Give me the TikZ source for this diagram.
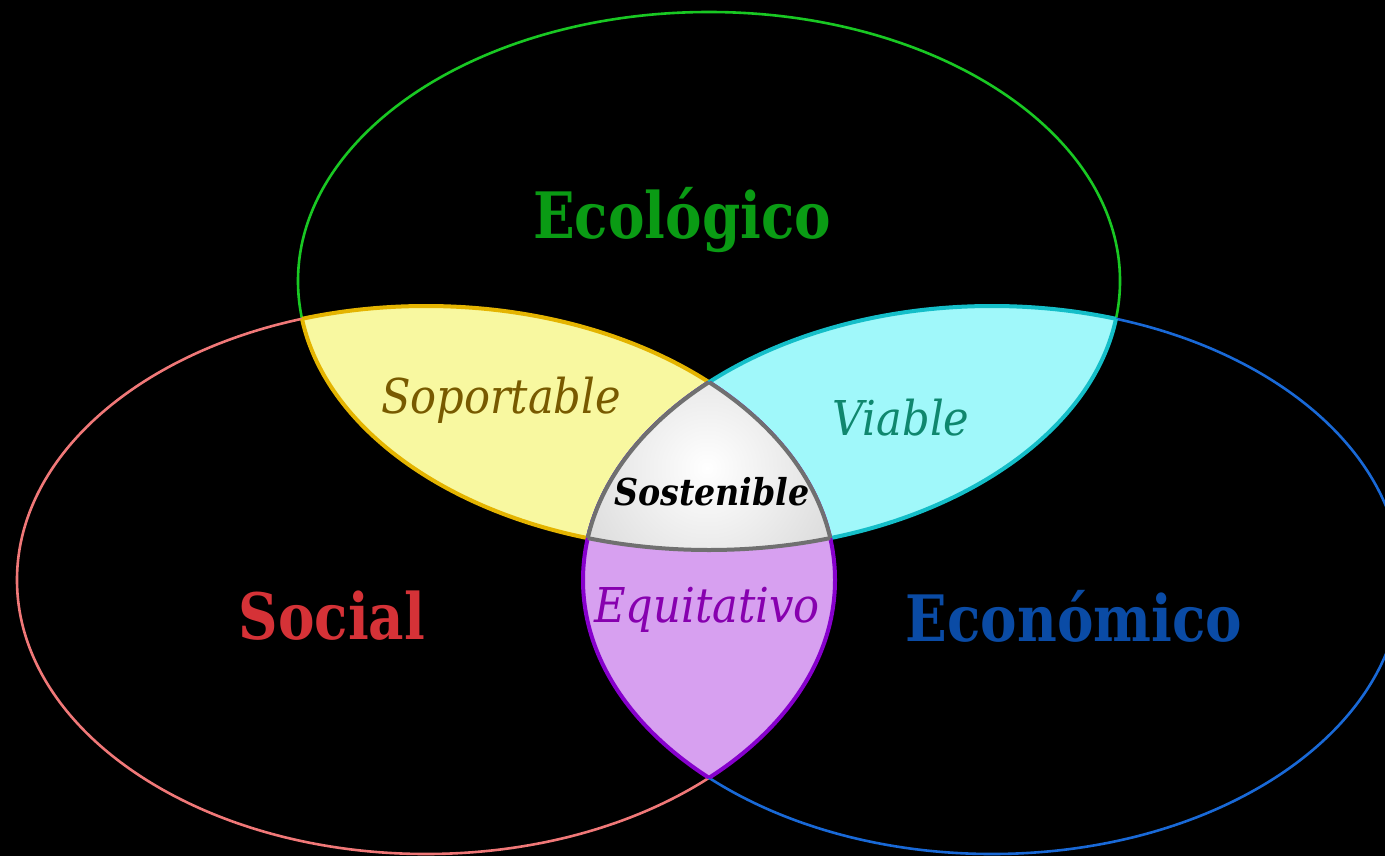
\documentclass[tikz,border=0pt]{standalone}
\usepackage{fontspec}
\newfontfamily\dvc{DejaVu Serif Condensed}
\definecolor{bgc}{RGB}{0,0,0}
\definecolor{gline}{RGB}{25,200,35}
\definecolor{gtext}{RGB}{10,155,20}
\definecolor{rline}{RGB}{240,120,120}
\definecolor{rtext}{RGB}{213,50,55}
\definecolor{bline}{RGB}{25,105,215}
\definecolor{btext}{RGB}{10,75,165}
\definecolor{yfill}{RGB}{248,248,160}
\definecolor{yline}{RGB}{228,180,0}
\definecolor{ytext}{RGB}{120,90,0}
\definecolor{cfill}{RGB}{160,248,250}
\definecolor{cline}{RGB}{20,190,200}
\definecolor{ctext}{RGB}{15,135,110}
\definecolor{pfill}{RGB}{215,160,240}
\definecolor{pline}{RGB}{135,0,205}
\definecolor{ptext}{RGB}{135,0,175}
\definecolor{sline}{RGB}{112,112,112}
\definecolor{sout}{RGB}{180,180,180}
\newcommand\narrow[1]{\scalebox{0.95}[1]{#1}}
\tikzset{
  thinring/.style={line width=1.3pt},
  lensborder/.style={line width=2pt},
  bigword/.style={font=\dvc\bfseries\fontsize{32}{32}\selectfont, anchor=base, inner sep=0pt},
  smallword/.style={font=\dvc\itshape\fontsize{24}{24}\selectfont, anchor=base, inner sep=0pt},
}
\def\G{(709,281) ellipse [x radius=411, y radius=269]}
\def\R{(426,580) ellipse [x radius=409, y radius=274]}
\def\B{(992,580) ellipse [x radius=409, y radius=274]}
\begin{document}
\begin{tikzpicture}[x=0.5pt,y=-0.5pt]
\useasboundingbox (0,0) rectangle (1385,856);
\fill[bgc] (0,0) rectangle (1385,856);
\clip (0,0) rectangle (1385,856);
% thin rings
\draw[thinring, gline] \G;
\draw[thinring, rline] \R;
\draw[thinring, bline] \B;
% Soportable (G and R)
\begin{scope}\clip \G; \fill[yfill] \R; \draw[lensborder, yline] \R; \end{scope}
\begin{scope}\clip \R; \draw[lensborder, yline] \G; \end{scope}
% Viable (G and B)
\begin{scope}\clip \G; \fill[cfill] \B; \draw[lensborder, cline] \B; \end{scope}
\begin{scope}\clip \B; \draw[lensborder, cline] \G; \end{scope}
% Equitativo (R and B)
\begin{scope}\clip \R; \fill[pfill] \B; \draw[lensborder, pline] \B; \end{scope}
\begin{scope}\clip \B; \draw[lensborder, pline] \R; \end{scope}
% Sostenible (G, R and B)
\begin{scope}\clip \G; \clip \R; \clip \B;
  \shade[inner color=white, outer color=sout] (707,468) circle [radius=300];
\end{scope}
\begin{scope}\clip \G; \clip \R; \draw[lensborder, sline] \B; \end{scope}
\begin{scope}\clip \G; \clip \B; \draw[lensborder, sline] \R; \end{scope}
\begin{scope}\clip \R; \clip \B; \draw[lensborder, sline] \G; \end{scope}
% labels
\node[bigword, text=gtext] (eco) at (682,238) {\narrow{Ecológico}};
\node[bigword, text=rtext] (soc) at (332,639) {\narrow{Social}};
\node[bigword, text=btext] (ecn) at (1074,641) {\narrow{Económico}};
\node[smallword, text=ytext] (sop) at (501,413) {Soportable};
\node[smallword, text=ctext] (via) at (901,435) {Viable};
\node[smallword, text=ptext] (equ) at (707,622) {Equitativo};
\node[smallword, font=\dvc\bfseries\itshape\fontsize{18.5}{18.5}\selectfont, text=black] (sos) at (712,505) {Sostenible};
\end{tikzpicture}
\end{document}
